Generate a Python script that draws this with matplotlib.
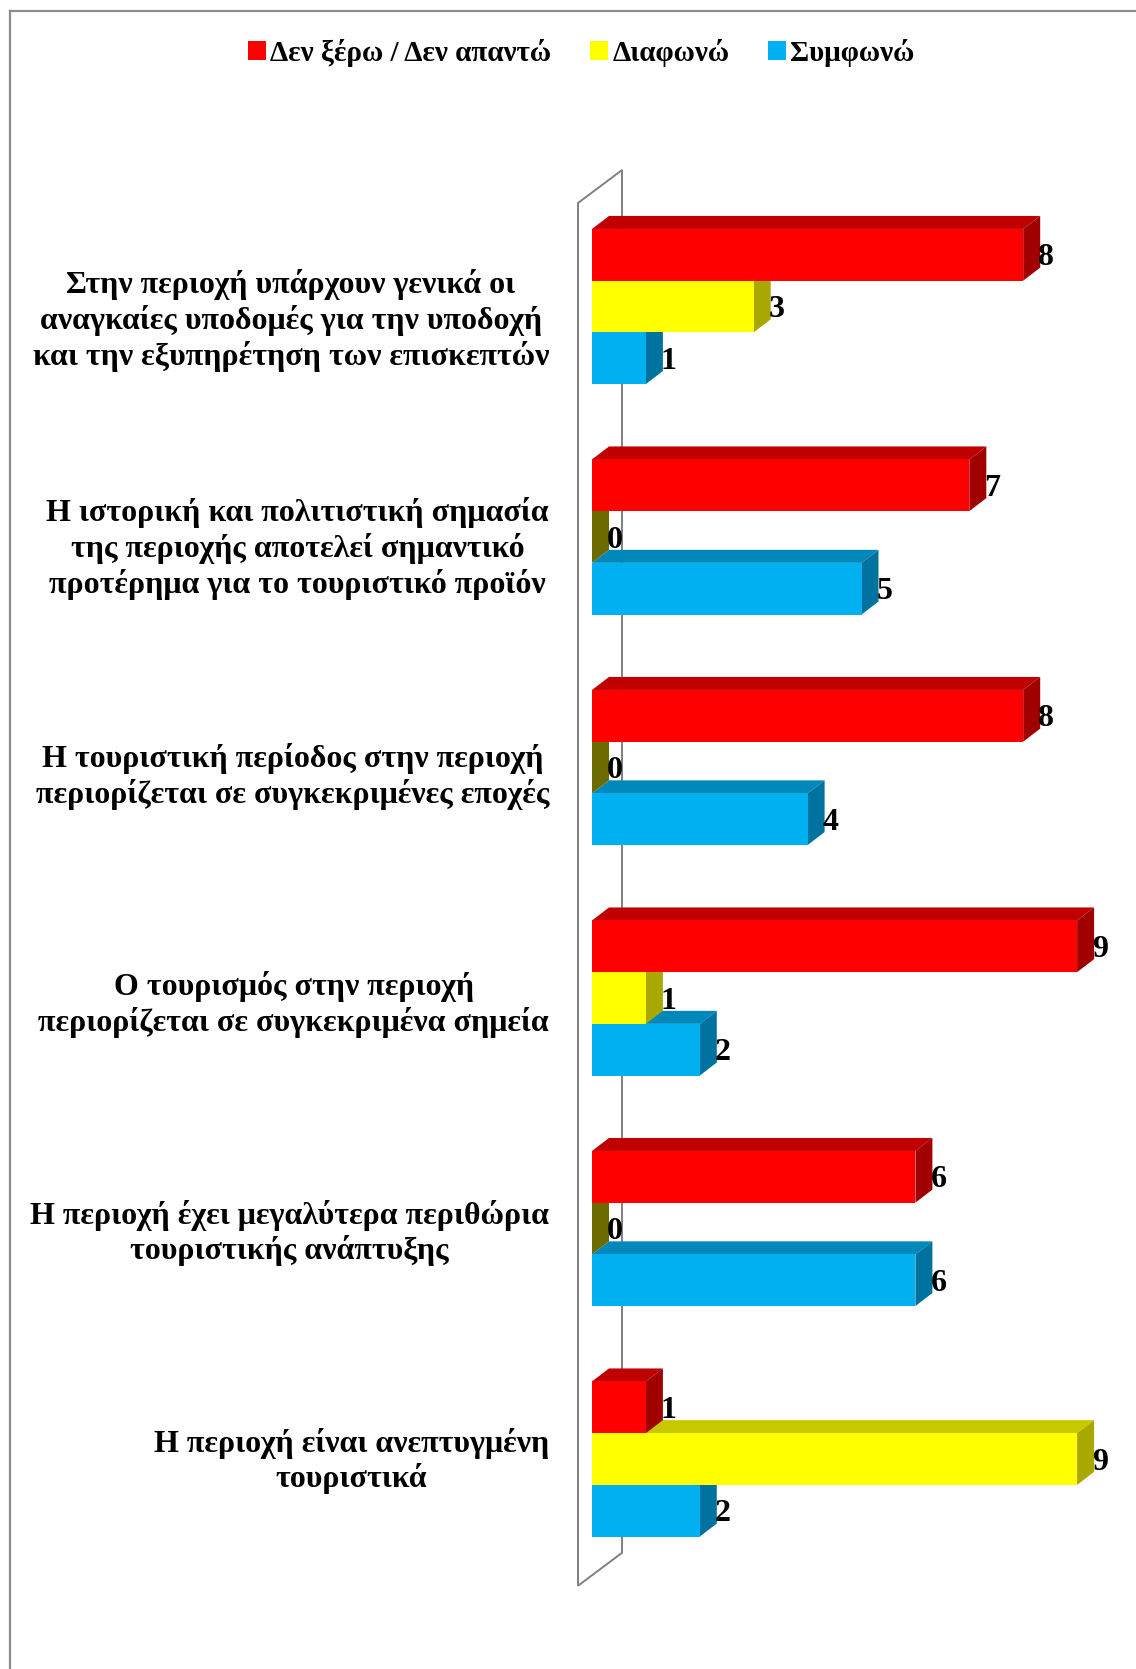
import numpy as np
import matplotlib
matplotlib.use("Agg")
import matplotlib.pyplot as plt
from matplotlib.patches import Polygon, Rectangle, Patch
from matplotlib.lines import Line2D

plt.rcParams['font.family'] = ['Liberation Serif', 'DejaVu Serif']
plt.rcParams['font.weight'] = 'bold'

# survey statements and answer counts
categories = [
    "Στην περιοχή υπάρχουν γενικά οι\nαναγκαίες υποδομές για την υποδοχή\nκαι την εξυπηρέτηση των επισκεπτών",
    "Η ιστορική και πολιτιστική σημασία\nτης περιοχής αποτελεί σημαντικό\nπροτέρημα για το τουριστικό προϊόν",
    "Η τουριστική περίοδος στην περιοχή\nπεριορίζεται σε συγκεκριμένες εποχές",
    "Ο τουρισμός στην περιοχή\nπεριορίζεται σε συγκεκριμένα σημεία",
    "Η περιοχή έχει μεγαλύτερα περιθώρια\nτουριστικής ανάπτυξης",
    "Η περιοχή είναι ανεπτυγμένη\nτουριστικά",
]
dont_know = [8, 7, 8, 9, 6, 1]
disagree = [3, 0, 0, 1, 0, 9]
agree = [1, 5, 4, 2, 6, 2]

series_names = ["Δεν ξέρω / Δεν απαντώ", "Διαφωνώ", "Συμφωνώ"]
series_vals = [dont_know, disagree, agree]
# front, top, side shading for each series
shades = [
    ("#FF0000", "#C00000", "#A00000"),
    ("#FFFF00", "#C8C800", "#A8A800"),
    ("#00B0F0", "#0088BB", "#0072A0"),
]
zero_side = ["#8A0000", "#6B6B00", "#005F85"]

W, H = 11.36, 16.69
fig = plt.figure(figsize=(W, H), dpi=100)
ax = fig.add_axes([0, 0, 1, 1])
ax.set_axis_off()

# one value unit = 53.9 px, one category step = 230.5 px
px_x, px_y = 53.9, 230.5
x0_px, y0_px = 592, 306.5
ax.set_xlim(-x0_px / px_x, (W * 100 - x0_px) / px_x)
ax.set_ylim((H * 100 - y0_px) / px_y, -y0_px / px_y)

bar_h = 51.7 / px_y
DX = 17 / px_x
DY = -13 / px_y

# side wall behind the bars
wx0, wx1 = -14 / px_x, 30 / px_x
wall = [(wx0, -0.449), (wx1, -0.592), (wx1, 5.407), (wx0, 5.550)]
ax.add_patch(Polygon(wall, closed=True, fill=False, edgecolor="#808080", lw=1.4, zorder=1))


def draw_bar(v, yc, front, top, side, zside, z):
    yt, yb = yc - bar_h / 2, yc + bar_h / 2
    ax.add_patch(Polygon([(0, yt), (v, yt), (v + DX, yt + DY), (DX, yt + DY)],
                         closed=True, facecolor=top, edgecolor="none", zorder=z))
    ax.add_patch(Polygon([(v, yt), (v, yb), (v + DX, yb + DY), (v + DX, yt + DY)],
                         closed=True, facecolor=side if v > 0 else zside,
                         edgecolor="none", zorder=z))
    if v > 0:
        ax.add_patch(Rectangle((0, yt), v, bar_h, facecolor=front, edgecolor="none", zorder=z))


z = 2
for i in range(len(categories) - 1, -1, -1):
    for k in (2, 1, 0):
        v = series_vals[k][i]
        yc = i + (k - 1) * bar_h
        draw_bar(v, yc, *shades[k], zero_side[k], z)
        z += 1
        ax.annotate(str(v), xy=(v, yc), xytext=(15, -3), textcoords="offset pixels",
                    ha="left", va="center", fontsize=23, fontweight="bold",
                    color="black", zorder=100)

# category labels sit a little below the group centre, less so further down
for i, lab in enumerate(categories):
    ax.text(-43 / px_x, i + (14 - 2.4 * i) / px_y, lab, ha="right", va="center",
            fontsize=23, fontweight="bold", linespacing=1.2, multialignment="center")

handles = [Patch(facecolor=s[0], edgecolor="none") for s in shades]
fig.legend(handles, series_names, loc="center", bbox_to_anchor=(0.5118, 1 - 53 / 1669),
           ncol=3, frameon=False, handlelength=0.6, handleheight=0.6,
           handletextpad=0.15, columnspacing=1.34, prop={"size": 21, "weight": "bold"})

# chart border
fig.add_artist(Line2D([10 / 1136, 1], [1 - 11 / 1669] * 2, color="#8C8C8C", lw=1.6))
fig.add_artist(Line2D([10 / 1136] * 2, [0, 1 - 11 / 1669], color="#8C8C8C", lw=1.6))

fig.savefig("out.png", dpi=100)
